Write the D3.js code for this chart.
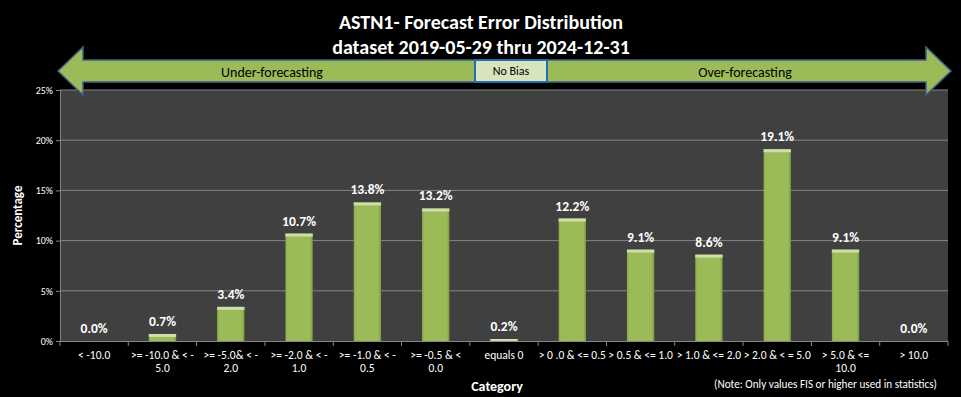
<!DOCTYPE html>
<html>
<head>
<meta charset="utf-8">
<script src="https://cdn.jsdelivr.net/npm/d3@7/dist/d3.min.js"></script>
<style>
  body { margin: 0; background: #000; }
  svg { display: block; }
  text { font-family: Carlito, "Liberation Sans Narrow", "Open Sans", sans-serif; fill: #fff; }
</style>
</head>
<body>
<div id="chart"></div>
<script>
// category labels (two lines each, as wrapped in the picture)
const categories = [
  ["< -10.0", ""],
  [">= -10.0 & < -", "5.0"],
  [">= -5.0& < -", "2.0"],
  [">= -2.0 & < -", "1.0"],
  [">= -1.0 & < -", "0.5"],
  [">= -0.5 & <", "0.0"],
  ["equals 0", ""],
  ["> 0 .0 & <= 0.5", ""],
  ["> 0.5 & <= 1.0", ""],
  ["> 1.0 & <= 2.0", ""],
  ["> 2.0 & < = 5.0", ""],
  ["> 5.0 & <=", "10.0"],
  ["> 10.0", ""]
];
const values = [0.0, 0.7, 3.4, 10.7, 13.8, 13.2, 0.2, 12.2, 9.1, 8.6, 19.1, 9.1, 0.0];
const yTicks = [0, 5, 10, 15, 20, 25];

const width = 961, height = 397;
const margin = { top: 90, right: 13, bottom: 56, left: 60 };
const plotW = width - margin.left - margin.right;
const plotH = height - margin.top - margin.bottom;

const svg = d3.select("#chart").append("svg").attr("width", width).attr("height", height);

// title
svg.append("text").attr("x", 481).attr("y", 29).attr("text-anchor", "middle")
  .style("font-size", "20px").style("font-weight", "bold")
  .text("ASTN1- Forecast Error Distribution");
svg.append("text").attr("x", 481).attr("y", 54).attr("text-anchor", "middle")
  .style("font-size", "20px").style("font-weight", "bold")
  .text("dataset 2019-05-29  thru 2024-12-31");

const g = svg.append("g").attr("transform", `translate(${margin.left},${margin.top})`);

const x = d3.scaleBand().domain(d3.range(categories.length)).range([0, plotW]).paddingInner(0.6).paddingOuter(0.3);
const y = d3.scaleLinear().domain([0, 25]).range([plotH, 0]);

// plot background
g.append("rect").attr("width", plotW).attr("height", plotH).attr("fill", "#404040");

// gridlines
g.append("g").selectAll("line").data(yTicks.filter(d => d > 0)).join("line")
  .attr("x1", 0).attr("x2", plotW)
  .attr("y1", d => y(d)).attr("y2", d => y(d))
  .attr("stroke", "#858585").attr("stroke-width", 1);

// y axis
const yAxis = g.append("g").call(d3.axisLeft(y).tickValues(yTicks).tickFormat(d => d + "%").tickSize(4));
yAxis.select(".domain").attr("stroke", "#858585");
yAxis.selectAll(".tick line").attr("stroke", "#858585");
yAxis.selectAll(".tick text").attr("fill", "#fff").style("font-size", "10px")
  .style("font-family", "Carlito, 'Liberation Sans Narrow', sans-serif");

// x axis: ticks between categories
const step = plotW / categories.length;
g.append("line").attr("x1", 0).attr("x2", plotW).attr("y1", plotH + 0.5).attr("y2", plotH + 0.5)
  .attr("stroke", "#858585");
g.append("g").selectAll("line").data(d3.range(categories.length + 1)).join("line")
  .attr("x1", i => i * step).attr("x2", i => i * step)
  .attr("y1", plotH).attr("y2", plotH + 5).attr("stroke", "#858585");

const xl = g.append("g").selectAll("text").data(categories).join("text")
  .attr("x", (d, i) => x(i) + x.bandwidth() / 2)
  .attr("y", plotH + 18)
  .attr("text-anchor", "middle")
  .style("font-size", "11.5px");
xl.append("tspan").text(d => d[0]);
xl.append("tspan").attr("x", (d, i) => x(i) + x.bandwidth() / 2).attr("dy", 13).text(d => d[1]);

// bars
const defs = svg.append("defs");
const grad = defs.append("linearGradient").attr("id", "barSide").attr("x1", 0).attr("x2", 1);
grad.append("stop").attr("offset", "0%").attr("stop-color", "#86A64A");
grad.append("stop").attr("offset", "8%").attr("stop-color", "#9BBB59");
grad.append("stop").attr("offset", "90%").attr("stop-color", "#9BBB59");
grad.append("stop").attr("offset", "100%").attr("stop-color", "#7B9A3C");

const barData = values.map((v, i) => ({ i, v }));
const bars = g.append("g").selectAll("g").data(barData).join("g");
bars.append("rect")
  .attr("x", d => x(d.i)).attr("y", d => y(d.v))
  .attr("width", x.bandwidth()).attr("height", d => plotH - y(d.v))
  .attr("fill", "url(#barSide)");
bars.filter(d => d.v > 0).append("rect")
  .attr("x", d => x(d.i)).attr("y", d => y(d.v))
  .attr("width", x.bandwidth()).attr("height", d => Math.min(3, plotH - y(d.v)))
  .attr("fill", "#CFDDAA");

// value labels
g.append("g").selectAll("text").data(barData).join("text")
  .attr("x", d => x(d.i) + x.bandwidth() / 2)
  .attr("y", d => y(d.v) - 8)
  .attr("text-anchor", "middle")
  .style("font-size", "13.5px").style("font-weight", "bold")
  .text(d => d.v.toFixed(1) + "%");

// axis titles
svg.append("text").attr("transform", `translate(22,${margin.top + plotH / 2}) rotate(-90)`)
  .attr("text-anchor", "middle").style("font-size", "13px").style("font-weight", "bold")
  .text("Percentage");
svg.append("text").attr("x", 497).attr("y", 391).attr("text-anchor", "middle")
  .style("font-size", "14px").style("font-weight", "bold").text("Category");
svg.append("text").attr("x", 937).attr("y", 388).attr("text-anchor", "end")
  .style("font-size", "11.2px").text("(Note: Only values FIS or higher used in statistics)");

// bias arrow banner
const ay = 71, shaftH = 22, headH = 48, leftTip = 58, rightTip = 951, headL = 25;
const arrow = [
  [leftTip, ay], [leftTip + headL, ay - headH / 2], [leftTip + headL, ay - shaftH / 2],
  [rightTip - headL, ay - shaftH / 2], [rightTip - headL, ay - headH / 2], [rightTip, ay],
  [rightTip - headL, ay + headH / 2], [rightTip - headL, ay + shaftH / 2],
  [leftTip + headL, ay + shaftH / 2], [leftTip + headL, ay + headH / 2]
];
svg.append("path").attr("d", d3.line()(arrow) + "Z")
  .attr("fill", "#9BBB59").attr("stroke", "#3E5F86").attr("stroke-width", 1.5);
svg.append("rect").attr("x", 475).attr("y", 60).attr("width", 72).attr("height", 22)
  .attr("fill", "#D7E4BD").attr("stroke", "#1F6FB2").attr("stroke-width", 2);
svg.append("text").attr("x", 511).attr("y", 75).attr("text-anchor", "middle")
  .style("fill", "#000").style("font-size", "12px").text("No  Bias");
svg.append("text").attr("x", 272).attr("y", 77).attr("text-anchor", "middle")
  .style("fill", "#000").style("font-size", "14px").text("Under-forecasting");
svg.append("text").attr("x", 745).attr("y", 77).attr("text-anchor", "middle")
  .style("fill", "#000").style("font-size", "14px").text("Over-forecasting");
</script>
</body>
</html>
